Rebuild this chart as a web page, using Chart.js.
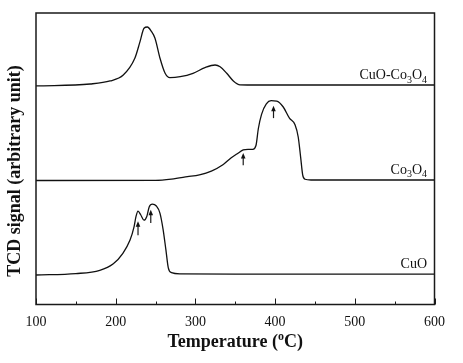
<!DOCTYPE html>
<html>
<head>
<meta charset="utf-8">
<script src="https://cdn.jsdelivr.net/npm/chart.js@4.4.0/dist/chart.umd.min.js"></script>
<style>
    html, body { margin: 0; padding: 0; background: #fff; }
</style>
</head>
<body>
<canvas id="tprChart" width="463" height="363"></canvas>
<script>
// H2-TPR profiles (signal in arbitrary units above each baseline)
const cuoTemp = [100, 150, 180, 197, 209, 218, 223, 225.5, 228, 231.5, 235.5, 239, 242, 246, 251, 255.5, 259.5, 263, 266, 270, 281, 350, 600];
const cuoSignal = [0, 0.015, 0.05, 0.12, 0.23, 0.37, 0.51, 0.62, 0.675, 0.635, 0.58, 0.62, 0.72, 0.75, 0.73, 0.655, 0.48, 0.265, 0.075, 0.025, 0.012, 0.01, 0.01];

const co3o4Temp = [100, 250, 270, 290, 305, 320, 335, 345, 352, 360, 366, 372, 376, 379, 383, 389, 395, 402, 410, 418, 425, 429, 432, 434.6, 437.5, 445, 600];
const co3o4Signal = [0, 0.002, 0.015, 0.04, 0.06, 0.1, 0.17, 0.24, 0.28, 0.323, 0.33, 0.33, 0.37, 0.55, 0.7, 0.81, 0.844, 0.84, 0.78, 0.66, 0.59, 0.46, 0.25, 0.06, 0.013, 0.005, 0.005];

const mixTemp = [100, 168, 193, 209.5, 224, 230.5, 235.5, 239.7, 245, 249.3, 255.6, 262, 268, 281, 297, 312, 324.6, 331, 339.3, 347.6, 356, 365, 600];
const mixSignal = [0, 0.021, 0.053, 0.116, 0.293, 0.469, 0.611, 0.624, 0.575, 0.505, 0.293, 0.134, 0.088, 0.098, 0.134, 0.194, 0.222, 0.204, 0.134, 0.053, 0.011, 0.01, 0.01];

const seriesNames = ['CuO', 'Co3O4', 'CuO-Co3O4'];
const seriesOffsets = [0, 1, 2];

// arrows marking the reduction peaks
const arrowTemp = [228, 244, 360, 398];
const arrowTip = [0.57, 0.69, 1.29, 1.79];
const arrowTail = [0.42, 0.55, 1.16, 1.66];

const xTicks = [100, 200, 300, 400, 500, 600];
const xMinorTicks = [150, 250, 350, 450, 550];

const SERIF = '"Liberation Serif", "Times New Roman", serif';

function toPoints(temps, signal, offset) {
    return temps.map((t, i) => ({ x: t, y: signal[i] + offset }));
}

// draws text with digits as subscripts, right aligned at (xr, yb)
function drawChemLabel(ctx, text, xr, yb) {
    const parts = text.split(/(\d+)/).filter(s => s.length);
    const big = '14px ' + SERIF;
    const small = '10px ' + SERIF;
    let width = 0;
    parts.forEach(p => {
        ctx.font = /\d/.test(p) ? small : big;
        width += ctx.measureText(p).width;
    });
    let xp = xr - width;
    ctx.textAlign = 'left';
    ctx.textBaseline = 'alphabetic';
    parts.forEach(p => {
        const sub = /\d/.test(p);
        ctx.font = sub ? small : big;
        ctx.fillText(p, xp, yb + (sub ? 3.5 : 0));
        xp += ctx.measureText(p).width;
    });
}

const decorations = {
    id: 'decorations',
    afterDraw(chart) {
        const { ctx, chartArea: a, scales: { x, y } } = chart;
        ctx.save();
        ctx.strokeStyle = '#1a1a1a';
        ctx.fillStyle = '#111';

        // frame
        ctx.lineWidth = 1.5;
        ctx.strokeRect(a.left, a.top, a.right - a.left, a.bottom - a.top);

        // inward ticks on the bottom axis
        ctx.lineWidth = 1;
        ctx.beginPath();
        xTicks.forEach(t => {
            const px = Math.round(x.getPixelForValue(t)) + 0.5;
            ctx.moveTo(px, a.bottom);
            ctx.lineTo(px, a.bottom - 6);
        });
        xMinorTicks.forEach(t => {
            const px = Math.round(x.getPixelForValue(t)) + 0.5;
            ctx.moveTo(px, a.bottom);
            ctx.lineTo(px, a.bottom - 3);
        });
        ctx.stroke();

        // tick labels
        ctx.font = '14px ' + SERIF;
        ctx.textAlign = 'center';
        ctx.textBaseline = 'alphabetic';
        xTicks.forEach(t => ctx.fillText(String(t), x.getPixelForValue(t), a.bottom + 21));

        // x title with superscript o
        const cx = (a.left + a.right) / 2;
        const boldBig = 'bold 18px ' + SERIF;
        const boldSmall = 'bold 12px ' + SERIF;
        const titleParts = [['Temperature (', boldBig, 0], ['o', boldSmall, -7], ['C)', boldBig, 0]];
        let tw = 0;
        titleParts.forEach(([s, f]) => { ctx.font = f; tw += ctx.measureText(s).width; });
        let tx = cx - tw / 2;
        ctx.textAlign = 'left';
        titleParts.forEach(([s, f, dy]) => {
            ctx.font = f;
            ctx.fillText(s, tx, a.bottom + 42 + dy);
            tx += ctx.measureText(s).width;
        });

        // y title
        ctx.save();
        ctx.translate(19.5, 171);
        ctx.rotate(-Math.PI / 2);
        ctx.font = boldBig;
        ctx.textAlign = 'center';
        ctx.fillText('TCD signal (arbitrary unit)', 0, 0);
        ctx.restore();

        // series labels
        const labelX = x.getPixelForValue(590.6);
        seriesNames.forEach((name, i) => {
            drawChemLabel(ctx, name, labelX, y.getPixelForValue(seriesOffsets[i] + 0.07));
        });

        // arrows
        ctx.lineWidth = 1.2;
        arrowTemp.forEach((t, i) => {
            const px = x.getPixelForValue(t);
            const tip = y.getPixelForValue(arrowTip[i]);
            const tail = y.getPixelForValue(arrowTail[i]);
            ctx.beginPath();
            ctx.moveTo(px, tail);
            ctx.lineTo(px, tip + 4);
            ctx.stroke();
            ctx.beginPath();
            ctx.moveTo(px, tip);
            ctx.lineTo(px - 2.3, tip + 5.5);
            ctx.lineTo(px + 2.3, tip + 5.5);
            ctx.closePath();
            ctx.fill();
        });
        ctx.restore();
    }
};

const lineStyle = {
    borderColor: '#111',
    borderWidth: 1.3,
    pointRadius: 0,
    fill: false,
    cubicInterpolationMode: 'monotone'
};

new Chart(document.getElementById('tprChart'), {
    type: 'line',
    data: {
        datasets: [
            { label: seriesNames[0], data: toPoints(cuoTemp, cuoSignal, seriesOffsets[0]), ...lineStyle },
            { label: seriesNames[1], data: toPoints(co3o4Temp, co3o4Signal, seriesOffsets[1]), ...lineStyle },
            { label: seriesNames[2], data: toPoints(mixTemp, mixSignal, seriesOffsets[2]), ...lineStyle }
        ]
    },
    options: {
        responsive: false,
        animation: false,
        layout: { padding: { left: 36, right: 28.5, top: 13, bottom: 58.5 } },
        plugins: {
            legend: { display: false },
            tooltip: { enabled: false }
        },
        scales: {
            x: { type: 'linear', min: 100, max: 600, display: false },
            y: { type: 'linear', min: -0.312, max: 2.772, display: false }
        }
    },
    plugins: [decorations]
});
</script>
</body>
</html>
